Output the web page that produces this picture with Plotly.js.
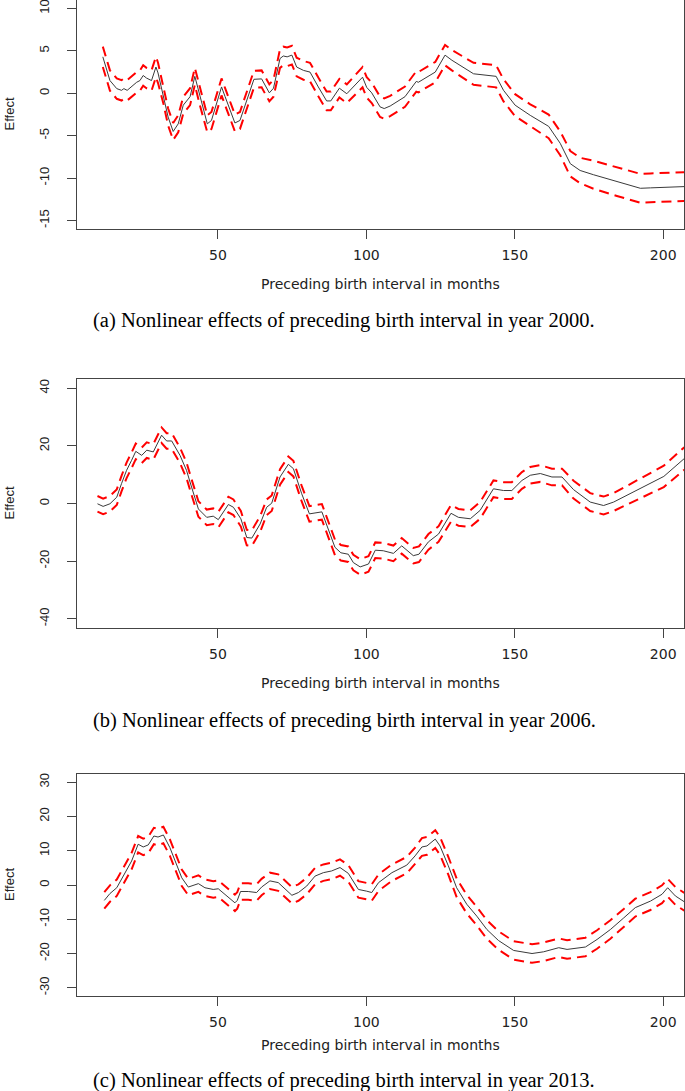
<!DOCTYPE html>
<html>
<head>
<meta charset="utf-8">
<script src="https://cdn.plot.ly/plotly-3.0.1.min.js"></script>
<style>
  html, body { margin: 0; padding: 0; background: #ffffff; }
  #chart { width: 685px; height: 1091px; }
</style>
</head>
<body>
<div id="chart"></div>
<script>
// ---------------- Panel (a): year 2000 ----------------
const xA = [11.2, 13.6, 15.9, 17.5, 18.3, 19.4, 22.6, 23.7, 24.8, 25.9, 27.6, 29.1, 29.8, 31.6, 33.2, 34.9, 36.6, 38.3, 40.6, 42.2, 43.9, 46.4, 47.8, 51.2, 52.4, 54.0, 55.7, 57.4, 59.7, 62.1, 64.7, 67.3, 68.7, 70.9, 72.0, 73.3, 74.9, 76.5, 78.8, 81.0, 83.8, 86.6, 88.0, 90.9, 93.4, 98.7, 100.1, 101.8, 104.6, 106.0, 108.0, 113.0, 116.8, 117.5, 123.2, 126.5, 128.8, 136.1, 143.7, 146.2, 150.1, 155.2, 161.4, 165.3, 168.7, 172.0, 176.5, 184.4, 192.3, 195.7, 207.1];
const effectA = [4.3, 1.5, 0.55, 0.35, 0.55, 0.35, 1.3, 1.5, 2.1, 1.8, 1.5, 3.1, 2.4, -0.2, -2.8, -4.5, -3.6, -1.4, -0.4, 2.0, -0.4, -3.6, -3.2, 0.75, -0.4, -2.0, -3.5, -3.2, -0.8, 1.65, 1.7, 0.05, 0.6, 4.1, 4.4, 4.3, 4.5, 3.1, 2.7, 2.5, 0.75, -0.9, -0.9, 0.6, -0.05, 1.9, 0.7, 0.05, -1.6, -1.8, -1.5, -0.4, 1.4, 1.3, 2.5, 4.5, 3.9, 2.3, 2.0, 0.35, -1.4, -2.6, -3.9, -5.9, -8.3, -9.1, -9.6, -10.4, -11.2, -11.15, -11.0];
const upperA = [5.5, 2.7, 1.75, 1.55, 1.75, 1.55, 2.5, 2.7, 3.3, 3.0, 2.7, 4.3, 3.6, 0.8, -1.8, -3.5, -2.6, -0.4, 0.6, 3.0, 0.6, -2.6, -2.2, 1.75, 0.6, -1.0, -2.5, -2.2, 0.2, 2.65, 2.7, 1.05, 1.6, 5.2, 5.5, 5.4, 5.6, 4.2, 3.8, 3.6, 1.85, 0.2, 0.2, 1.7, 1.05, 3.1, 1.9, 1.25, -0.4, -0.6, -0.3, 0.8, 2.6, 2.5, 3.7, 5.7, 5.1, 3.6, 3.3, 1.65, -0.1, -1.3, -2.5, -4.5, -6.8, -7.6, -7.95, -8.7, -9.5, -9.45, -9.3];
const lowerA = [3.1, 0.3, -0.65, -0.85, -0.65, -0.85, 0.1, 0.3, 0.9, 0.6, 0.3, 1.9, 1.2, -1.2, -3.8, -5.5, -4.6, -2.4, -1.4, 1.0, -1.4, -4.6, -4.2, -0.25, -1.4, -3.0, -4.5, -4.2, -1.8, 0.65, 0.7, -0.95, -0.4, 3.0, 3.3, 3.2, 3.4, 2.0, 1.6, 1.4, -0.35, -2.0, -2.0, -0.5, -1.15, 0.7, -0.5, -1.15, -2.8, -3.0, -2.7, -1.6, 0.2, 0.1, 1.3, 3.3, 2.7, 1.0, 0.7, -0.95, -2.7, -3.9, -5.3, -7.3, -9.8, -10.6, -11.25, -12.1, -12.9, -12.85, -12.7];

// ---------------- Panel (b): year 2006 ----------------
const xB = [9.4, 11.3, 13.6, 15.9, 17.5, 19.2, 20.9, 22.3, 24.3, 26.0, 28.2, 31.0, 32.7, 34.4, 37.2, 39.4, 41.1, 43.4, 46.2, 48.4, 50.1, 53.5, 55.2, 57.7, 59.7, 61.4, 64.2, 66.4, 68.1, 70.9, 73.7, 75.4, 78.2, 80.8, 85.0, 87.2, 89.4, 91.4, 93.9, 95.6, 97.9, 100.7, 103.0, 105.7, 109.1, 111.9, 115.8, 117.7, 120.9, 124.3, 128.5, 131.0, 135.0, 138.3, 142.8, 146.2, 149.0, 152.4, 155.2, 158.6, 162.5, 165.9, 169.8, 175.4, 179.9, 183.3, 188.9, 194.5, 200.2, 207.1];
const effectB = [-0.1, -1.0, -0.1, 2.2, 6.9, 11.5, 15.0, 18.1, 16.7, 18.5, 17.9, 23.7, 21.7, 21.7, 16.7, 11.5, 5.7, -1.9, -4.8, -4.4, -5.6, -0.35, -1.3, -5.3, -11.8, -12.0, -7.1, -1.3, 0.1, 9.2, 13.6, 12.1, 3.4, -3.6, -2.9, -8.8, -15.2, -17.1, -17.6, -20.5, -22.0, -21.0, -16.2, -16.4, -17.3, -14.7, -18.1, -17.6, -13.3, -10.6, -3.4, -4.8, -5.3, -2.4, 5.1, 4.5, 4.5, 8.0, 9.8, 10.4, 9.2, 9.2, 4.8, 0.5, -0.7, 0.5, 3.4, 6.3, 9.4, 15.6];
const upperB = [2.6, 1.7, 2.6, 4.9, 9.6, 14.2, 17.7, 20.8, 19.4, 21.2, 20.6, 26.4, 24.4, 24.4, 19.4, 14.2, 8.4, 0.8, -2.1, -1.7, -2.9, 2.35, 1.4, -2.6, -9.1, -9.3, -4.4, 1.4, 2.8, 11.9, 16.3, 14.8, 6.1, -0.9, -0.2, -6.1, -12.5, -14.4, -14.9, -17.8, -19.3, -18.3, -13.5, -13.7, -14.6, -12.0, -15.4, -14.9, -10.6, -7.9, -0.5, -1.9, -2.4, 0.5, 8.0, 7.4, 7.4, 10.9, 12.7, 13.3, 12.1, 12.1, 7.9, 3.6, 2.4, 3.6, 6.7, 9.8, 13.1, 19.5];
const lowerB = [-2.8, -3.7, -2.8, -0.5, 4.2, 8.8, 12.3, 15.4, 14.0, 15.8, 15.2, 21.0, 19.0, 19.0, 14.0, 8.8, 3.0, -4.6, -7.5, -7.1, -8.3, -3.05, -4.0, -8.0, -14.5, -14.7, -9.8, -4.0, -2.6, 6.5, 10.9, 9.4, 0.7, -6.3, -5.6, -11.5, -17.9, -19.8, -20.3, -23.2, -24.7, -23.7, -18.9, -19.1, -20.0, -17.4, -20.8, -20.3, -16.0, -13.3, -6.3, -7.7, -8.2, -5.3, 2.2, 1.6, 1.6, 5.1, 6.9, 7.5, 6.3, 6.3, 1.7, -2.6, -3.8, -2.6, 0.1, 2.8, 5.7, 11.7];

// ---------------- Panel (c): year 2013 ----------------
const xC = [11.7, 13.6, 15.9, 18.1, 20.9, 23.1, 24.8, 26.5, 28.4, 29.8, 31.6, 33.8, 36.6, 37.8, 40.0, 41.7, 43.4, 45.6, 48.4, 50.1, 52.4, 55.7, 56.5, 57.6, 60.2, 63.0, 64.7, 67.5, 70.3, 72.0, 74.9, 77.1, 79.9, 82.7, 85.5, 88.3, 91.1, 93.9, 97.3, 100.1, 101.8, 104.1, 108.6, 113.6, 116.4, 118.7, 120.4, 123.2, 124.8, 127.6, 130.4, 133.8, 137.2, 140.6, 144.5, 149.6, 155.8, 159.7, 164.8, 167.6, 173.8, 177.7, 182.2, 186.7, 190.6, 195.7, 199.6, 201.5, 204.1, 207.1];
const effectC = [-4.5, -2.5, -0.8, 2.6, 7.0, 11.9, 11.1, 11.7, 14.3, 14.0, 14.6, 10.9, 4.6, 2.1, -0.6, 0.0, 0.4, -0.8, -1.3, -1.1, -2.7, -5.2, -4.5, -1.9, -1.9, -2.2, -0.6, 1.2, 0.7, -0.6, -3.0, -2.2, -0.3, 2.6, 3.6, 4.1, 5.1, 3.4, -1.3, -1.8, -2.2, 0.7, 3.6, 5.8, 8.5, 11.1, 11.4, 13.4, 11.4, 5.6, -0.8, -5.6, -9.1, -13.0, -16.2, -19.1, -20.0, -19.5, -18.3, -18.8, -18.1, -15.9, -13.0, -9.6, -6.6, -4.7, -2.7, -0.8, -3.2, -4.9];
const upperC = [-2.1, -0.1, 1.6, 5.0, 9.4, 14.3, 13.5, 14.1, 16.7, 16.4, 17.0, 13.3, 7.0, 4.5, 1.8, 2.4, 2.8, 1.6, 1.1, 1.3, -0.3, -2.8, -2.1, 0.5, 0.5, 0.2, 1.8, 3.6, 3.1, 1.8, -0.6, 0.2, 2.1, 5.0, 6.0, 6.5, 7.5, 5.8, 1.1, 0.6, 0.2, 3.1, 6.0, 8.2, 10.9, 13.7, 14.0, 16.0, 14.0, 8.2, 1.9, -2.9, -6.4, -10.3, -13.5, -16.4, -17.3, -16.8, -15.6, -16.1, -15.4, -13.2, -10.3, -7.0, -4.0, -2.1, -0.1, 1.8, -0.6, -2.3];
const lowerC = [-6.9, -4.9, -3.2, 0.2, 4.6, 9.5, 8.7, 9.3, 11.9, 11.6, 12.2, 8.5, 2.2, -0.3, -3.0, -2.4, -2.0, -3.2, -3.7, -3.5, -5.1, -7.6, -6.9, -4.3, -4.3, -4.6, -3.0, -1.2, -1.7, -3.0, -5.4, -4.6, -2.7, 0.2, 1.2, 1.7, 2.7, 1.0, -3.7, -4.2, -4.6, -1.7, 1.2, 3.4, 6.1, 8.5, 8.8, 10.8, 8.8, 3.0, -3.5, -8.3, -11.8, -15.7, -18.9, -21.8, -22.7, -22.2, -21.0, -21.5, -20.8, -18.6, -15.7, -12.2, -9.2, -7.3, -5.3, -3.4, -5.8, -7.5];

// ---------------- Ticks & labels ----------------
const xTicks = [50, 100, 150, 200];
const yTicksA = [-15, -10, -5, 0, 5, 10];
const yTicksB = [-40, -20, 0, 20, 40];
const yTicksC = [-30, -20, -10, 0, 10, 20, 30];
const xTitle = "Preceding birth interval in months";
const yTitle = "Effect";
const captions = [
  "(a) Nonlinear effects of preceding birth interval in year 2000.",
  "(b) Nonlinear effects of preceding birth interval in year 2006.",
  "(c) Nonlinear effects of preceding birth interval in year 2013."
];

// ---------------- Build ----------------
const W = 685, H = 1091;
const py = v => 1 - v / H;  // pixel-from-top to paper y
const panels = [
  {x: xA, c: effectA, u: upperA, l: lowerA, yr: [-16, 11], yt: yTicksA, top: 0, bot: 229},
  {x: xB, c: effectB, u: upperB, l: lowerB, yr: [-43.2, 43.2], yt: yTicksB, top: 379, bot: 628},
  {x: xC, c: effectC, u: upperC, l: lowerC, yr: [-32.4, 32.4], yt: yTicksC, top: 774, bot: 996}
];
const titleY = [284, 683, 1045];
const capY = [320, 720, 1080];

const yFont = {family: "Liberation Sans, Arial, sans-serif", size: 13, color: "#222"};
const xFont = {family: "DejaVu Sans, sans-serif", size: 14, color: "#222"};
const traces = [];
const layout = {
  width: W, height: H,
  margin: {l: 0, r: 0, t: 0, b: 0},
  paper_bgcolor: "#ffffff", plot_bgcolor: "#ffffff",
  showlegend: false,
  annotations: []
};

panels.forEach((p, i) => {
  const n = i === 0 ? "" : String(i + 1);
  const xa = "x" + n, ya = "y" + n;
  traces.push({x: p.x, y: p.c, xaxis: xa, yaxis: ya, mode: "lines",
    line: {color: "#3a3a3a", width: 1}, hoverinfo: "skip"});
  traces.push({x: p.x, y: p.u, xaxis: xa, yaxis: ya, mode: "lines",
    line: {color: "#ff0000", width: 2, dash: "10px,6px"}, hoverinfo: "skip"});
  traces.push({x: p.x, y: p.l, xaxis: xa, yaxis: ya, mode: "lines",
    line: {color: "#ff0000", width: 2, dash: "10px,6px"}, hoverinfo: "skip"});

  const common = {
    showline: true, mirror: true, linecolor: "#444", linewidth: 1,
    ticks: "outside", ticklen: 9, tickcolor: "#444", tickwidth: 1,
    showgrid: false, zeroline: false, fixedrange: true,
    ticklabeloverflow: "allow", automargin: false
  };
  layout["xaxis" + n] = Object.assign({}, common, {
    domain: [77 / W, 684 / W], range: [2.5, 207], anchor: ya,
    tickmode: "array", tickvals: xTicks, ticktext: xTicks.map(String),
    tickfont: xFont, ticklabelstandoff: 4
  });
  layout["yaxis" + n] = Object.assign({}, common, {
    domain: [py(p.bot), py(p.top)], range: p.yr, anchor: xa,
    tickmode: "array", tickvals: p.yt, ticktext: p.yt.map(String),
    tickfont: yFont, tickangle: -90, ticklabelstandoff: 13
  });

  layout.annotations.push({
    xref: "paper", yref: "paper", x: 9 / W, y: py((p.top + p.bot) / 2),
    text: yTitle, showarrow: false, textangle: -90, font: yFont,
    xanchor: "center", yanchor: "middle"
  });
  layout.annotations.push({
    xref: "paper", yref: "paper", x: 380 / W, y: py(titleY[i]),
    text: xTitle, showarrow: false, font: xFont,
    xanchor: "center", yanchor: "middle"
  });
  layout.annotations.push({
    xref: "paper", yref: "paper", x: 344 / W, y: py(capY[i]),
    text: captions[i], showarrow: false,
    font: {family: "Liberation Serif, Times New Roman, serif", size: 20.5, color: "#000"},
    xanchor: "center", yanchor: "middle"
  });
});

Plotly.newPlot("chart", traces, layout, {displayModeBar: false, staticPlot: true});
</script>
</body>
</html>
